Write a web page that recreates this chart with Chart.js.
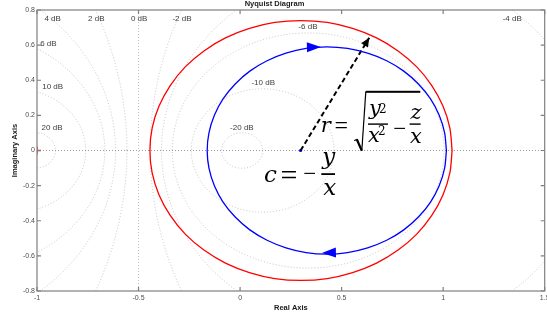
<!DOCTYPE html>
<html><head><meta charset="utf-8">
<script src="https://cdn.jsdelivr.net/npm/chart.js@4/dist/chart.umd.min.js"></script>
<style>
html,body{margin:0;padding:0;background:#fff;overflow:hidden}
#wrap{width:547px;height:320px;overflow:hidden;position:relative;background:#fff}
canvas{display:block}
</style>
</head><body>
<div id="wrap"><canvas id="c" width="550" height="320"></canvas></div>
<script>
// ---- data ----
const xTicks = [-1, -0.5, 0, 0.5, 1, 1.5];
const yTicks = [-0.8, -0.6, -0.4, -0.2, 0, 0.2, 0.4, 0.6, 0.8];
const dbLevels = [-20, -10, -6, -4, -2, 0, 2, 4, 6, 10, 20];

// blue Nyquist curve
const blueX = [1.016, 1.007, 0.980, 0.937, 0.878, 0.806, 0.722, 0.628, 0.529, 0.427,
  0.325, 0.226, 0.133, 0.048, -0.024, -0.083, -0.126, -0.153, -0.162,
  -0.153, -0.126, -0.083, -0.024, 0.048, 0.133, 0.226, 0.325, 0.427,
  0.529, 0.628, 0.722, 0.806, 0.878, 0.937, 0.980, 1.007, 1.016];
const blueY = [0, 0.102, 0.202, 0.295, 0.379, 0.452, 0.511, 0.554, 0.581, 0.590,
  0.581, 0.554, 0.511, 0.452, 0.379, 0.295, 0.202, 0.102, 0,
  -0.102, -0.202, -0.295, -0.379, -0.452, -0.511, -0.554, -0.581, -0.590,
  -0.581, -0.554, -0.511, -0.452, -0.379, -0.295, -0.202, -0.102, 0];

// red circle
const redX = [1.044, 1.033, 0.999, 0.944, 0.870, 0.778, 0.672, 0.554, 0.429, 0.300,
  0.171, 0.046, -0.072, -0.178, -0.270, -0.344, -0.399, -0.433, -0.444,
  -0.433, -0.399, -0.344, -0.270, -0.178, -0.072, 0.046, 0.171, 0.300,
  0.429, 0.554, 0.672, 0.778, 0.870, 0.944, 0.999, 1.033, 1.044];
const redY = [0, 0.128, 0.253, 0.370, 0.476, 0.567, 0.641, 0.695, 0.729, 0.740,
  0.729, 0.695, 0.641, 0.567, 0.476, 0.370, 0.253, 0.128, 0,
  -0.128, -0.253, -0.370, -0.476, -0.567, -0.641, -0.695, -0.729, -0.740,
  -0.729, -0.695, -0.641, -0.567, -0.476, -0.370, -0.253, -0.128, 0];

const criticalPoint = [-1, 0];
const centerC = [0.298, 0];
const radiusTip = [0.636, 0.642];
// blue direction arrows: tip and tail points
const blueArrowTipX = [0.398, 0.403];
const blueArrowTipY = [0.590, -0.583];
const blueArrowTailX = [0.334, 0.476];
const blueArrowTailY = [0.588, -0.581];

// ---- helpers ----
const pts = (xs, ys) => xs.map((x, i) => ({x: x, y: ys[i]}));
const SANS = '"Liberation Sans", Arial, Helvetica, sans-serif';
const SERIF_I = 'italic 21px "DejaVu Serif", serif';

const dbLabelAt = {
  '-20': [0.009, 0.128], '-10': [0.114, 0.388], '-6': [0.334, 0.704],
  '-4': [1.340, 0.75], '-2': [-0.286, 0.75], '0': [-0.497, 0.75],
  '2': [-0.708, 0.75], '4': [-0.923, 0.75], '6': [-0.944, 0.608],
  '10': [-0.923, 0.363], '20': [-0.926, 0.128]
};

const gridPlugin = {
  id: 'mgrid',
  beforeDatasetsDraw(chart) {
    const {ctx, chartArea: a, scales: {x, y}} = chart;
    ctx.save();
    ctx.beginPath(); ctx.rect(a.left, a.top, a.right - a.left, a.bottom - a.top); ctx.clip();
    const sx = x.getPixelForValue(1) - x.getPixelForValue(0);
    const sy = y.getPixelForValue(0) - y.getPixelForValue(1);
    ctx.lineWidth = 1; ctx.setLineDash([1, 2]); ctx.strokeStyle = '#c2c2c2';
    dbLevels.forEach(db => {
      if (db === 0) {
        const px = x.getPixelForValue(-0.5);
        ctx.beginPath(); ctx.moveTo(px, a.top); ctx.lineTo(px, a.bottom); ctx.stroke();
        return;
      }
      const M = Math.pow(10, db / 20), M2 = M * M;
      const cx = M2 / (1 - M2), r = Math.abs(M / (1 - M2));
      ctx.beginPath();
      ctx.ellipse(x.getPixelForValue(cx), y.getPixelForValue(0), r * sx, r * sy, 0, 0, 2 * Math.PI);
      ctx.stroke();
    });
    ctx.strokeStyle = '#9a9a9a';
    const py = y.getPixelForValue(0);
    ctx.beginPath(); ctx.moveTo(a.left, py); ctx.lineTo(a.right, py); ctx.stroke();
    ctx.setLineDash([]);
    ctx.fillStyle = '#3c3c3c'; ctx.font = '8px ' + SANS;
    ctx.textAlign = 'center'; ctx.textBaseline = 'middle';
    dbLevels.forEach(db => {
      const p = dbLabelAt[String(db)];
      ctx.fillText(db + ' dB', x.getPixelForValue(p[0]), y.getPixelForValue(p[1]));
    });
    ctx.restore();
  }
};

function arrowHead(ctx, tx, ty, bx0, by0, len, hw, color) {
  const dx = tx - bx0, dy = ty - by0, d = Math.hypot(dx, dy);
  const ux = dx / d, uy = dy / d;
  const bx = tx - ux * len, by = ty - uy * len;
  ctx.beginPath();
  ctx.moveTo(tx, ty);
  ctx.lineTo(bx - uy * hw, by + ux * hw);
  ctx.lineTo(bx + uy * hw, by - ux * hw);
  ctx.closePath();
  ctx.fillStyle = color; ctx.fill();
}

const annotPlugin = {
  id: 'annot',
  afterDatasetsDraw(chart) {
    const {ctx, chartArea: a, scales: {x, y}} = chart;
    ctx.save();
    // blue arrows
    for (let i = 0; i < blueArrowTipX.length; i++) {
      arrowHead(ctx, x.getPixelForValue(blueArrowTipX[i]), y.getPixelForValue(blueArrowTipY[i]),
        x.getPixelForValue(blueArrowTailX[i]), y.getPixelForValue(blueArrowTailY[i]), 14, 5, '#0000ff');
    }
    // black arrow head
    arrowHead(ctx, x.getPixelForValue(radiusTip[0]), y.getPixelForValue(radiusTip[1]),
      x.getPixelForValue(centerC[0]), y.getPixelForValue(centerC[1]), 9, 4, '#000');

    // formulas, anchored at the centre point c
    const ax = x.getPixelForValue(centerC[0]), ay = y.getPixelForValue(centerC[1]);
    ctx.fillStyle = '#000'; ctx.strokeStyle = '#000';
    ctx.textBaseline = 'alphabetic';
    const txt = (s, dx, dy, font, align) => {
      ctx.font = font; ctx.textAlign = align || 'left'; ctx.fillText(s, ax + dx, ay + dy);
    };
    const bar = (x0, x1, yy, w) => {
      ctx.fillRect(ax + x0, ay + yy - w / 2, x1 - x0, w);
    };
    // r = sqrt(y^2/x^2 - z/x)
    txt('r', 20.2, -18.7, SERIF_I);
    txt('=', 40.7, -17.3, '24px "Liberation Serif", serif', 'center');
    ctx.lineJoin = 'miter';
    ctx.lineWidth = 1.2;
    ctx.beginPath();
    ctx.moveTo(ax + 53.7, ay - 9.7); ctx.lineTo(ax + 56.2, ay - 11.2);
    ctx.stroke();
    ctx.lineWidth = 2.2;
    ctx.beginPath(); ctx.moveTo(ax + 56.2, ay - 11.2); ctx.lineTo(ax + 61.2, ay + 0.3); ctx.stroke();
    ctx.lineWidth = 1.2;
    ctx.beginPath(); ctx.moveTo(ax + 61.2, ay + 0.3); ctx.lineTo(ax + 65.2, ay - 58.7); ctx.stroke();
    bar(65.0, 119.7, -58.7, 2);
    bar(67.4, 87.4, -26.4, 1.4);
    txt('y', 68.4, -35.7, SERIF_I);
    txt('2', 78.4, -37.4, '12px "DejaVu Serif", serif');
    txt('x', 67.4, -9, SERIF_I);
    txt('2', 77.4, -15.7, '12px "DejaVu Serif", serif');
    txt('\u2212', 99.2, -14.2, '23px "Liberation Serif", serif', 'center');
    bar(109, 120, -26.4, 1.4);
    txt('z', 110, -31.4, SERIF_I);
    txt('x', 109.4, -8, SERIF_I);
    // c = -y/x
    txt('c', -36.6, 31, 'italic 23px "DejaVu Serif", serif');
    txt('=', -11.6, 34.9, '30px "Liberation Serif", serif', 'center');
    txt('\u2212', 9.2, 30.8, '23px "Liberation Serif", serif', 'center');
    txt('y', 21.7, 13.3, 'italic 23px "DejaVu Serif", serif');
    bar(20.7, 34.4, 23.6, 1.8);
    txt('x', 22.7, 44.3, 'italic 23px "DejaVu Serif", serif');
    ctx.restore();
  }
};

const framePlugin = {
  id: 'frame',
  afterDatasetsDraw(chart) {
    const {ctx, chartArea: a, scales: {x, y}} = chart;
    ctx.save();
    ctx.strokeStyle = '#7f7f7f'; ctx.lineWidth = 1.2; ctx.setLineDash([]);
    ctx.strokeRect(a.left, a.top, a.right - a.left, a.bottom - a.top);
    const L = 4;
    ctx.beginPath();
    xTicks.forEach(v => {
      const px = x.getPixelForValue(v);
      ctx.moveTo(px, a.bottom); ctx.lineTo(px, a.bottom - L);
      ctx.moveTo(px, a.top); ctx.lineTo(px, a.top + L);
    });
    yTicks.forEach(v => {
      const py = y.getPixelForValue(v);
      ctx.moveTo(a.left, py); ctx.lineTo(a.left + L, py);
      ctx.moveTo(a.right, py); ctx.lineTo(a.right - L, py);
    });
    ctx.stroke();
    ctx.restore();
  }
};

new Chart(document.getElementById('c'), {
  type: 'scatter',
  data: {
    datasets: [
      {label: 'red', data: pts(redX, redY), showLine: true, borderColor: '#ff0000', borderWidth: 1.3,
        pointRadius: 0, tension: 0.3, fill: false},
      {label: 'blue', data: pts(blueX, blueY), showLine: true, borderColor: '#0000ff', borderWidth: 1.3,
        pointRadius: 0, tension: 0.3, fill: false},
      {label: 'radius', data: [{x: centerC[0], y: centerC[1]}, {x: radiusTip[0], y: radiusTip[1]}],
        showLine: true, borderColor: '#000', borderWidth: 2, borderDash: [5, 3], pointRadius: 0},
      {label: 'critical', data: [{x: criticalPoint[0], y: criticalPoint[1]}], pointStyle: 'cross',
        pointRadius: 4, borderColor: '#ff0000', borderWidth: 1.3},
      {label: 'c', data: [{x: centerC[0], y: centerC[1]}], pointStyle: 'circle', pointRadius: 1.6,
        backgroundColor: '#0000ff', borderColor: '#0000ff', borderWidth: 0}
    ]
  },
  options: {
    responsive: false, animation: false, devicePixelRatio: 1,
    layout: {padding: {left: 0, right: 1, top: 0, bottom: 0}},
    plugins: {
      legend: {display: false}, tooltip: {enabled: false},
      title: {display: true, text: 'Nyquist Diagram', color: '#1a1a1a',
        font: {family: SANS, size: 7.5, weight: 'bold', lineHeight: 1}, padding: {top: 0, bottom: 2.5}}
    },
    scales: {
      x: {
        type: 'linear', min: -1, max: 1.5,
        afterBuildTicks: s => { s.ticks = xTicks.map(v => ({value: v})); },
        ticks: {font: {family: SANS, size: 7}, color: '#4d4d4d', padding: 3, maxRotation: 0,
          autoSkip: false, callback: v => String(v)},
        grid: {display: false, drawTicks: false}, border: {display: false},
        title: {display: true, text: 'Real Axis', color: '#1a1a1a',
          font: {family: SANS, size: 7.5, weight: 'bold', lineHeight: 1.2}, padding: {top: 0, bottom: 7.2}},
        afterFit: s => { s.height = 29; s.paddingLeft = 0; s.paddingRight = 0; }
      },
      y: {
        type: 'linear', min: -0.8, max: 0.8,
        afterBuildTicks: s => { s.ticks = yTicks.map(v => ({value: v})); },
        ticks: {font: {family: SANS, size: 7}, color: '#4d4d4d', padding: 2, autoSkip: false,
          callback: v => String(v)},
        grid: {display: false, drawTicks: false}, border: {display: false},
        title: {display: true, text: 'Imaginary Axis', color: '#1a1a1a',
          font: {family: SANS, size: 7.5, weight: 'bold', lineHeight: 1.2}, padding: {top: 10.5, bottom: 0}},
        afterFit: s => { s.width = 37; s.paddingTop = 0; s.paddingBottom = 0; }
      }
    }
  },
  plugins: [gridPlugin, annotPlugin, framePlugin]
});
</script>
</body></html>
